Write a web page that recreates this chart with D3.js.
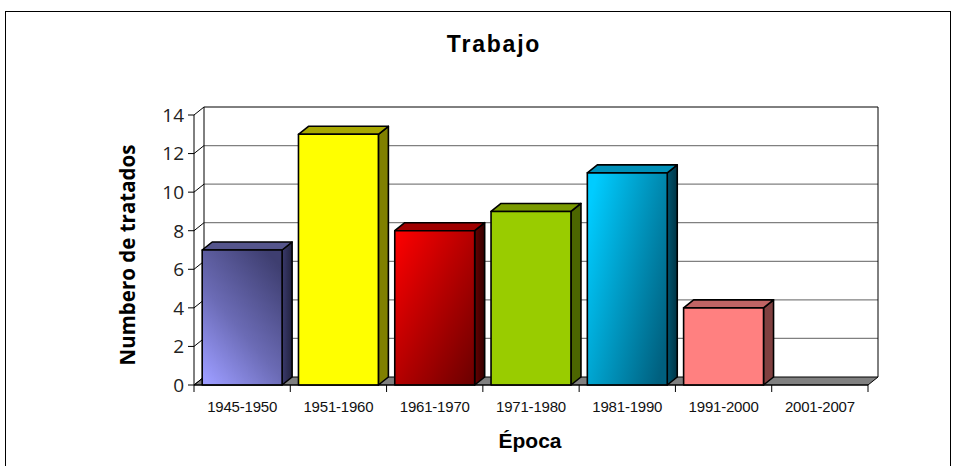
<!DOCTYPE html>
<html>
<head>
<meta charset="utf-8">
<script src="https://cdn.jsdelivr.net/npm/d3@7"></script>
<style>
  html, body { margin: 0; padding: 0; background: #fff; }
  svg { display: block; }
</style>
</head>
<body>
<svg id="chart" width="956" height="466"></svg>
<script>
// Treaties per period
const categories = ["1945-1950", "1951-1960", "1961-1970", "1971-1980", "1981-1990", "1991-2000", "2001-2007"];
const values = [7, 13, 8, 9, 11, 4, 0];
const yTicks = [0, 2, 4, 6, 8, 10, 12, 14];

const svg = d3.select("#chart");
const W = 956, H = 466;

// outer frame
svg.append("rect").attr("x", 5.5).attr("y", 11.5).attr("width", 945).attr("height", H)
  .attr("fill", "#fff").attr("stroke", "#000").attr("stroke-width", 1);

// front plane geometry and 3D depth offset
const left = 194, right = 868, dx = 10, dy = -8;
const x = d3.scaleBand().domain(categories).range([left, right]).padding(0);
const y = d3.scaleLinear().domain([0, 14]).range([385, 115]);
const barW = x.bandwidth() * 0.83;
const y0 = y(0);

const defs = svg.append("defs");
function grad(id, x1, y1, x2, y2, stops) {
  const g = defs.append("linearGradient").attr("id", id)
    .attr("x1", x1).attr("y1", y1).attr("x2", x2).attr("y2", y2);
  stops.forEach(s => g.append("stop").attr("offset", s[0]).attr("stop-color", s[1]));
  return `url(#${id})`;
}

const styles = [
  { front: grad("g1f", 0.1, 1, 0.8, 0, [[0, "#9c9cff"], [0.45, "#6b6bb5"], [1, "#3e3e70"]]),
    side: grad("g1s", 0, 0, 1, 0, [[0, "#3a3a6c"], [1, "#22223f"]]), top: "#55558c" },
  { front: "#ffff00", side: "#808000", top: "#a8a800" },
  { front: grad("g3f", 0, 0, 1, 1, [[0, "#ff0000"], [1, "#6a0000"]]),
    side: grad("g3s", 0, 0, 1, 0, [[0, "#660000"], [1, "#330000"]]), top: "#a00000" },
  { front: "#99cc00", side: "#4c6600", top: "#7a9a00" },
  { front: grad("g5f", 0, 0.2, 1, 0.8, [[0, "#00ccff"], [1, "#00607f"]]),
    side: grad("g5s", 0, 0, 1, 0, [[0, "#005570"], [1, "#003444"]]), top: "#0090b8" },
  { front: "#ff8080", side: "#804040", top: "#c06464" },
  { front: "#999999", side: "#666666", top: "#888888" }
];

// back wall and left side wall
const backL = left + dx, backR = right + dx, backTop = y(14) + dy, backBot = y0 + dy;
svg.append("polygon")
  .attr("points", [[left, y(14)], [backL, backTop], [backR, backTop], [backR, backBot], [backL, backBot], [left, y0]].join(" "))
  .attr("fill", "#fff");

// gridlines on the back wall and the left wall
yTicks.forEach(t => {
  if (t === 0) return;
  svg.append("line").attr("x1", backL).attr("x2", backR)
    .attr("y1", y(t) + dy).attr("y2", y(t) + dy)
    .attr("stroke", t === 14 ? "#000" : "#808080").attr("stroke-width", t === 14 ? 1 : 1.3);
  svg.append("line").attr("x1", left).attr("x2", backL)
    .attr("y1", y(t)).attr("y2", y(t) + dy).attr("stroke", "#000");
});
svg.append("line").attr("x1", backL).attr("x2", backL).attr("y1", backTop).attr("y2", backBot).attr("stroke", "#000");
svg.append("line").attr("x1", backR).attr("x2", backR).attr("y1", backTop).attr("y2", backBot).attr("stroke", "#000");

// floor
svg.append("polygon")
  .attr("points", [[left, y0], [right, y0], [backR, backBot], [backL, backBot]].join(" "))
  .attr("fill", "#808080").attr("stroke", "#000").attr("stroke-width", 1);
svg.append("line").attr("x1", left).attr("x2", backL).attr("y1", y0).attr("y2", backBot).attr("stroke", "#000");

// bars
const bars = svg.append("g");
categories.forEach((c, i) => {
  const v = values[i];
  if (v <= 0) return;
  const st = styles[i];
  const x0 = x(c) + (x.bandwidth() - barW) / 2, x1 = x0 + barW, yt = y(v);
  const g = bars.append("g").attr("stroke", "#000").attr("stroke-width", 1.6).attr("stroke-linejoin", "round");
  g.append("polygon").attr("points", [[x1, yt], [x1 + dx, yt + dy], [x1 + dx, y0 + dy], [x1, y0]].join(" "))
    .attr("fill", st.side);
  g.append("polygon").attr("points", [[x0, yt], [x0 + dx, yt + dy], [x1 + dx, yt + dy], [x1, yt]].join(" "))
    .attr("fill", st.top);
  g.append("rect").attr("x", x0).attr("y", yt).attr("width", barW).attr("height", y0 - yt)
    .attr("fill", st.front);
});

// y axis
svg.append("line").attr("x1", left).attr("x2", left).attr("y1", y(14)).attr("y2", y0).attr("stroke", "#000");
const yAxis = svg.append("g");
yTicks.forEach(t => {
  yAxis.append("line").attr("x1", left - 6).attr("x2", left).attr("y1", y(t)).attr("y2", y(t)).attr("stroke", "#000");
  yAxis.append("text").attr("x", left - 10).attr("y", y(t)).attr("dy", "0.36em")
    .attr("text-anchor", "end").attr("font-family", "'Open Sans', sans-serif")
    .attr("font-size", 19).attr("fill", "#222").text(t);
});

// x axis
svg.append("line").attr("x1", left).attr("x2", right).attr("y1", y0).attr("y2", y0).attr("stroke", "#000");
const xAxis = svg.append("g");
categories.concat([null]).forEach((c, i) => {
  const xp = left + i * x.step();
  xAxis.append("line").attr("x1", xp).attr("x2", xp).attr("y1", y0).attr("y2", y0 + 7).attr("stroke", "#000");
});
categories.forEach(c => {
  xAxis.append("text").attr("x", x(c) + x.bandwidth() / 2).attr("y", 412)
    .attr("text-anchor", "middle").attr("font-family", "'Liberation Sans', Arial, sans-serif")
    .attr("font-size", 15).attr("letter-spacing", -0.2).attr("fill", "#111").text(c);
});

// titles
svg.append("text").attr("x", 494).attr("y", 52).attr("text-anchor", "middle")
  .attr("font-family", "'Liberation Sans', Arial, sans-serif").attr("font-weight", "bold")
  .attr("font-size", 23).attr("letter-spacing", 1.8).text("Trabajo");
svg.append("text").attr("x", 530).attr("y", 448).attr("text-anchor", "middle")
  .attr("font-family", "'Liberation Sans', Arial, sans-serif").attr("font-weight", "bold")
  .attr("font-size", 21).text("Época");
svg.append("text").attr("transform", "translate(135,255) rotate(-90)").attr("text-anchor", "middle")
  .attr("font-family", "'Open Sans', sans-serif").attr("font-weight", "bold")
  .attr("font-size", 20.5).text("Numbero de tratados");
</script>
</body>
</html>
